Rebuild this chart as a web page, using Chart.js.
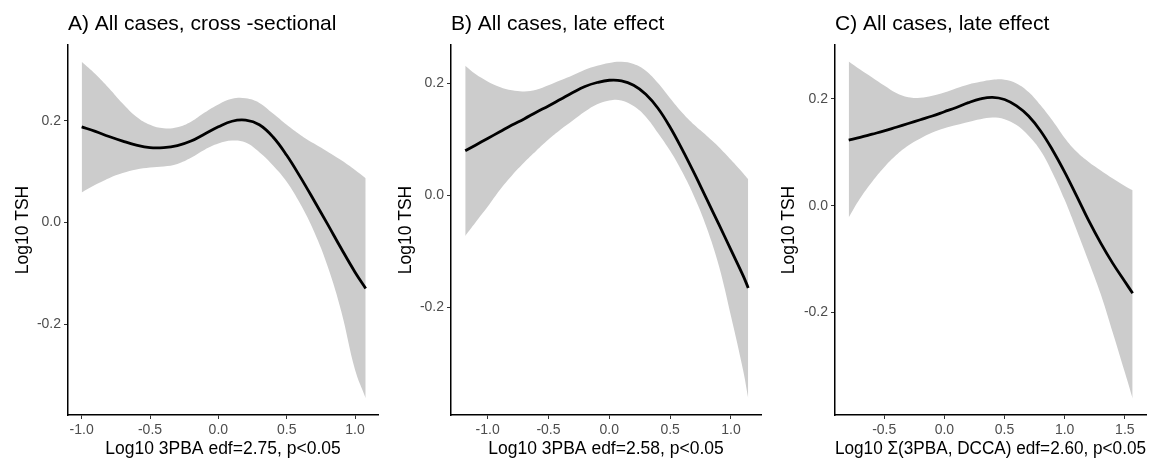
<!DOCTYPE html>
<html><head><meta charset="utf-8">
<script src="https://cdn.jsdelivr.net/npm/chart.js@4.4.1/dist/chart.umd.min.js"></script>
<style>
html,body{margin:0;padding:0;background:#fff;}
#wrap{position:relative;width:1150px;height:458px;overflow:hidden;background:#fff;}
canvas{position:absolute;top:0;}
</style></head><body>
<div id="wrap">
<canvas id="cA" width="383" height="458" style="left:0px"></canvas>
<canvas id="cB" width="383" height="458" style="left:383px"></canvas>
<canvas id="cC" width="384" height="458" style="left:766px"></canvas>
</div>
<script>
// ---- text ----
const titleA = 'A) All cases, cross -sectional';
const titleB = 'B) All cases, late effect';
const titleC = 'C) All cases, late effect';
const xTitleA = 'Log10 3PBA edf=2.75, p<0.05';
const xTitleB = 'Log10 3PBA edf=2.58, p<0.05';
const xTitleC = 'Log10 \u03A3(3PBA, DCCA) edf=2.60, p<0.05';
const yTitle = 'Log10 TSH';

// ---- tick labels ----
const xTicksA = [-1.0, -0.5, 0.0, 0.5, 1.0];
const xTicksB = [-1.0, -0.5, 0.0, 0.5, 1.0];
const xTicksC = [-0.5, 0.0, 0.5, 1.0, 1.5];
const yTicks = [-0.2, 0.0, 0.2];

// ---- panel A ----
const aX     = [-1.0,-0.9,-0.8,-0.7,-0.6,-0.5,-0.4,-0.3,-0.2,-0.1,0.0,0.1,0.2,0.3,0.4,0.5,0.6,0.7,0.8,0.9,1.0,1.078];
const aFit   = [0.188,0.179,0.169,0.160,0.152,0.147,0.147,0.151,0.160,0.174,0.188,0.199,0.201,0.192,0.168,0.132,0.089,0.043,-0.004,-0.052,-0.098,-0.130];
const aUpper = [0.316,0.292,0.264,0.234,0.208,0.192,0.185,0.187,0.198,0.216,0.232,0.243,0.244,0.235,0.214,0.192,0.172,0.155,0.139,0.122,0.103,0.087];
const aLower = [0.059,0.074,0.087,0.097,0.104,0.108,0.110,0.115,0.127,0.143,0.155,0.161,0.157,0.138,0.112,0.080,0.036,-0.018,-0.087,-0.176,-0.290,-0.346];

// ---- panel B ----
const bX     = [-1.184,-1.1,-1.0,-0.9,-0.8,-0.7,-0.6,-0.5,-0.4,-0.3,-0.2,-0.1,0.0,0.1,0.2,0.3,0.4,0.5,0.6,0.7,0.8,0.9,1.0,1.1,1.142];
const bFit   = [0.080,0.090,0.102,0.114,0.126,0.137,0.149,0.160,0.172,0.184,0.195,0.202,0.206,0.205,0.197,0.181,0.156,0.122,0.082,0.039,-0.006,-0.051,-0.097,-0.143,-0.165];
const bUpper = [0.232,0.217,0.204,0.194,0.188,0.186,0.189,0.197,0.206,0.215,0.225,0.232,0.237,0.239,0.235,0.223,0.201,0.174,0.148,0.126,0.107,0.087,0.064,0.040,0.029];
const bLower = [-0.072,-0.048,-0.020,0.010,0.036,0.059,0.080,0.100,0.118,0.134,0.150,0.163,0.170,0.170,0.160,0.141,0.112,0.080,0.042,-0.003,-0.057,-0.125,-0.215,-0.312,-0.362];

// ---- panel C ----
const cX     = [-0.795,-0.7,-0.6,-0.5,-0.4,-0.3,-0.2,-0.1,0.0,0.1,0.2,0.3,0.4,0.5,0.6,0.7,0.8,0.9,1.0,1.1,1.2,1.3,1.4,1.5,1.565];
const cFit   = [0.123,0.128,0.134,0.140,0.147,0.154,0.161,0.168,0.176,0.184,0.193,0.200,0.203,0.199,0.187,0.168,0.140,0.104,0.063,0.018,-0.028,-0.070,-0.108,-0.142,-0.164];
const cUpper = [0.270,0.255,0.240,0.225,0.211,0.203,0.202,0.206,0.212,0.220,0.227,0.232,0.236,0.236,0.229,0.213,0.188,0.159,0.127,0.101,0.082,0.066,0.051,0.037,0.029];
const cLower = [-0.022,0.014,0.045,0.072,0.095,0.113,0.126,0.137,0.145,0.151,0.157,0.162,0.165,0.162,0.151,0.131,0.103,0.061,0.011,-0.046,-0.105,-0.166,-0.238,-0.312,-0.361];

Chart.defaults.font.family = '"Liberation Sans", Arial, Helvetica, sans-serif';
Chart.defaults.animation = false;

function pts(xs, ys){ return xs.map((x,i)=>({x:x, y:ys[i]})); }

function makePanel(id, cfg){
  const ctx = document.getElementById(id);
  new Chart(ctx, {
    type: 'line',
    data: {
      datasets: [
        {data: pts(cfg.x, cfg.fit), borderColor:'#000', borderWidth:2.8, pointRadius:0, fill:false, tension:0.4},
        {data: pts(cfg.x, cfg.up), borderWidth:0, borderColor:'rgba(0,0,0,0)', pointRadius:0, fill:'+1', backgroundColor:'#cccccc', tension:0.4},
        {data: pts(cfg.x, cfg.lo), borderWidth:0, borderColor:'rgba(0,0,0,0)', pointRadius:0, fill:false, tension:0.4}
      ]
    },
    options: {
      responsive:false,
      devicePixelRatio:1,
      animation:false,
      events:[],
      layout:{padding:{left:0, right:cfg.padRight, top:0, bottom:0}},
      plugins:{
        legend:{display:false},
        tooltip:{enabled:false},
        title:{display:true, text:cfg.title, align:'start', fullSize:false, color:'#000',
               font:{size:21, weight:'normal', lineHeight:1.2}, padding:{top:11.7, bottom:8.1}}
      },
      scales:{
        x:{
          type:'linear', min:cfg.xmin, max:cfg.xmax,
          afterBuildTicks: s => { s.ticks = cfg.xt.map(v=>({value:v})); },
          afterFit: s => { s.height = 43; },
          ticks:{callback: v => Number(v).toFixed(1), color:'#4d4d4d', font:{size:14}, padding:3, maxRotation:0, autoSkip:false},
          grid:{display:true, drawOnChartArea:false, drawTicks:true, tickLength:4, color:'#333333', lineWidth:1},
          border:{display:true, color:'#000', width:1.5},
          title:{display:true, text:cfg.xTitle, color:'#000', font:{size:17.5, lineHeight:1}, padding:{top:0, bottom:0}}
        },
        y:{
          type:'linear', min:cfg.ymin, max:cfg.ymax,
          afterBuildTicks: s => { s.ticks = yTicks.map(v=>({value:v})); },
          afterFit: s => { s.width = cfg.yw; },
          ticks:{callback: v => Number(v).toFixed(1), color:'#4d4d4d', font:{size:14}, padding:3, autoSkip:false},
          grid:{display:true, drawOnChartArea:false, drawTicks:true, tickLength:4, color:'#333333', lineWidth:1},
          border:{display:true, color:'#000', width:1.5},
          title:{display:true, text:yTitle, color:'#000', font:{size:17.5, lineHeight:1.2}, padding:{top:13, bottom:0}}
        }
      }
    }
  });
}

makePanel('cA', {x:aX, fit:aFit, up:aUpper, lo:aLower, xt:xTicksA, title:titleA, xTitle:xTitleA,
  xmin:-1.1, xmax:1.168, ymin:-0.379, ymax:0.349, yw:68, padRight:5});
makePanel('cB', {x:bX, fit:bFit, up:bUpper, lo:bLower, xt:xTicksB, title:titleB, xTitle:xTitleB,
  xmin:-1.301, xmax:1.247, ymin:-0.392, ymax:0.269, yw:68, padRight:5});
makePanel('cC', {x:cX, fit:cFit, up:cUpper, lo:cLower, xt:xTicksC, title:titleC, xTitle:xTitleC,
  xmin:-0.909, xmax:1.676, ymin:-0.392, ymax:0.301, yw:69, padRight:4});
</script>
</body></html>
